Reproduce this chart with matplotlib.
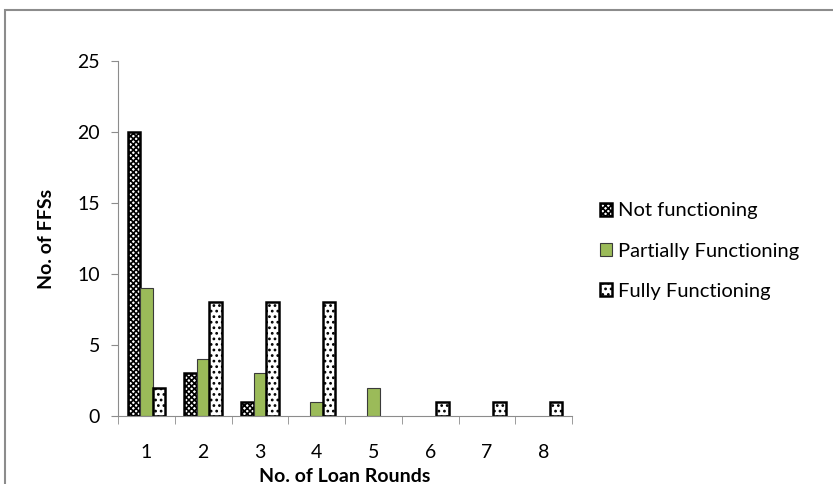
import numpy as np
import matplotlib
matplotlib.use("Agg")
from matplotlib import pyplot
from matplotlib.patches import Rectangle

pyplot.rcParams['font.family'] = ['Lato', 'DejaVu Sans']
pyplot.rcParams['hatch.linewidth'] = 1.2

rounds = ["1", "2", "3", "4", "5", "6", "7", "8"]
not_functioning = [20, 3, 1, 0, 0, 0, 0, 0]
partially_functioning = [9, 4, 3, 1, 2, 0, 0, 0]
fully_functioning = [2, 8, 8, 8, 0, 1, 1, 1]

W, H = 833, 484
fig = pyplot.figure(figsize=(W / 100, H / 100), dpi=100)

# chart frame (only top and left edges visible)
fig.patches.append(Rectangle((5 / W, -0.1), 1.2, 1.1 - 10 / H, transform=fig.transFigure,
                             fill=False, edgecolor="#8c8c8c", lw=1.5))

ax = fig.add_axes([118 / W, 1 - 416 / H, (572 - 118) / W, (416 - 61) / H])

x = np.arange(len(rounds))
bw = 0.22


def nonzero(vals):
    # zero counts get no bar at all
    v = np.asarray(vals, dtype=float)
    return x[v > 0], v[v > 0]


style = dict(linewidth=1.8, edgecolor="black")
xs, v = nonzero(not_functioning)
ax.bar(xs - bw, v, bw, color="white", hatch="xxxxxx", label="Not functioning", **style)
xs, v = nonzero(partially_functioning)
ax.bar(xs, v, bw, color="#9bbb59", edgecolor="#3a3a3a", linewidth=0.8,
       label="Partially Functioning")
xs, v = nonzero(fully_functioning)
ax.bar(xs + bw, v, bw, color="white", hatch="...", label="Fully Functioning", **style)

ax.set_xlim(-0.5, len(rounds) - 0.5)
ax.set_ylim(0, 25)
ax.set_yticks(range(0, 26, 5))
ax.set_xticks(x)
ax.set_xticklabels(rounds)
ax.set_xticks(np.arange(-0.5, len(rounds)), minor=True)
ax.tick_params(axis="x", which="major", length=0, pad=20, labelsize=14)
ax.tick_params(axis="x", which="minor", length=6, color="#8c8c8c", direction="out")
ax.tick_params(axis="y", length=5, color="#8c8c8c", labelsize=14, pad=8)

for s in ["top", "right"]:
    ax.spines[s].set_visible(False)
for s in ["left", "bottom"]:
    ax.spines[s].set_color("#8c8c8c")

ax.set_ylabel("No. of FFSs", fontsize=14, fontweight="bold", labelpad=16)
ax.set_xlabel("No. of Loan Rounds", fontsize=14, fontweight="bold", labelpad=5)

ax.legend(loc="center left", bbox_to_anchor=(582 / W, 1 - 251 / H), bbox_transform=fig.transFigure,
          frameon=False, fontsize=14.5, handlelength=0.6, handleheight=0.6, handletextpad=0.3,
          labelspacing=1.15)

fig.savefig("out.png", dpi=100)
